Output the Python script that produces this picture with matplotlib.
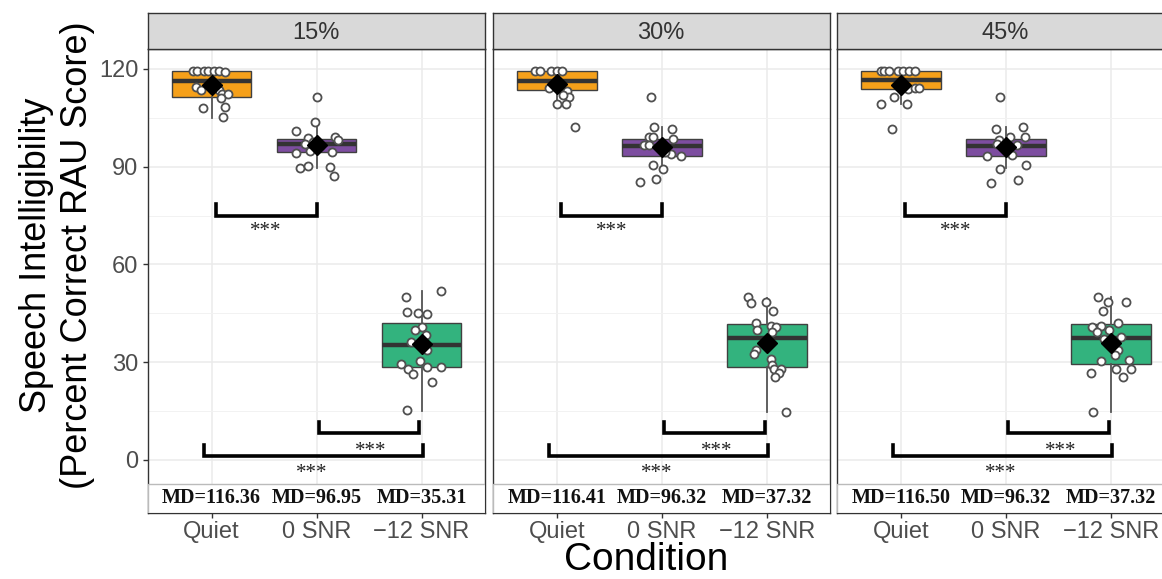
import matplotlib
matplotlib.use("Agg")
import matplotlib.pyplot as plt
from matplotlib.patches import Rectangle
from matplotlib.ticker import FixedLocator

plt.rcParams['font.family'] = ['Liberation Sans', 'DejaVu Sans']

# ---------------- data ----------------
panels = ["15%", "30%", "45%"]
conditions = ["Quiet", "0 SNR", "\u221212 SNR"]
md_labels_15 = ["MD=116.36", "MD=96.95", "MD=35.31"]
md_labels_30 = ["MD=116.41", "MD=96.32", "MD=37.32"]
md_labels_45 = ["MD=116.50", "MD=96.32", "MD=37.32"]
y_ticks = [0, 30, 60, 90, 120]

# box statistics per condition (Quiet, 0 SNR, -12 SNR)
q1_15 = [111.5, 94.4, 28.4]
med_15 = [116.3, 96.9, 35.3]
q3_15 = [119.4, 98.4, 42.1]
lo_15 = [104.9, 89.5, 15.1]
hi_15 = [119.4, 103.8, 51.7]
mean_15 = [115.1, 96.7, 35.6]

q1_30 = [113.6, 93.3, 28.6]
med_30 = [116.4, 96.3, 37.3]
q3_30 = [119.4, 98.4, 41.6]
lo_30 = [109.3, 89.5, 14.8]
hi_30 = [119.4, 102.3, 49.8]
mean_30 = [115.4, 95.9, 35.8]

q1_45 = [113.8, 93.3, 29.3]
med_45 = [116.5, 96.3, 37.3]
q3_45 = [119.4, 98.4, 41.6]
lo_45 = [109.3, 89.5, 14.8]
hi_45 = [119.4, 102.1, 49.9]
mean_45 = [115.1, 95.9, 36.0]

# individual scores and their jitter offsets
val_15_quiet = [119.4, 119.2, 119.4, 119.4, 119.4, 119.4, 119.0, 114.4, 113.6, 113.6,
                112.2, 112.2, 111.2, 108.4, 107.9, 105.1, 115.8]
jit_15_quiet = [-0.18, -0.14, -0.07, -0.03, 0.02, 0.07, 0.13, -0.15, -0.10, 0.07,
                0.10, 0.16, 0.09, 0.13, -0.08, 0.11, 0.03]
val_15_snr0 = [111.3, 103.8, 100.8, 98.7, 97.0, 99.2, 98.2, 94.1, 94.9, 94.4,
               89.7, 90.2, 90.0, 87.2, 96.2, 97.7]
jit_15_snr0 = [0.00, -0.01, -0.20, -0.08, -0.11, 0.18, 0.20, -0.20, -0.06, 0.15,
               -0.16, -0.08, 0.13, 0.17, 0.03, -0.03]
val_15_snr12 = [49.9, 51.7, 45.3, 45.0, 44.7, 40.9, 39.9, 38.2, 36.3, 33.8,
                30.4, 29.5, 28.6, 28.6, 27.9, 26.4, 24.0, 15.3]
jit_15_snr12 = [-0.15, 0.19, -0.14, -0.03, 0.05, 0.00, -0.06, 0.04, -0.10, 0.05,
                -0.01, -0.20, 0.05, 0.19, -0.13, -0.08, 0.10, -0.14]

val_30_quiet = [119.4, 119.4, 119.4, 119.4, 119.4, 114.1, 113.3, 111.3, 109.3, 109.3,
                102.1, 112.0, 115.6]
jit_30_quiet = [-0.21, -0.16, -0.05, 0.00, 0.05, -0.07, 0.10, 0.12, 0.00, 0.09,
                0.17, 0.06, -0.02]
val_30_snr0 = [111.3, 102.3, 101.5, 99.2, 99.2, 98.4, 96.7, 96.7, 93.9, 93.3,
               90.5, 89.2, 85.4, 86.2, 94.6]
jit_30_snr0 = [-0.10, -0.07, 0.10, -0.12, -0.08, 0.11, -0.17, -0.12, 0.09, 0.18,
               -0.08, 0.01, -0.21, -0.05, 0.03]
val_30_snr12 = [50.1, 48.3, 48.4, 45.8, 42.1, 41.1, 40.7, 39.9, 39.4, 33.8,
                32.4, 30.9, 29.2, 27.8, 27.8, 26.6, 25.4, 14.8]
jit_30_snr12 = [-0.18, -0.15, -0.01, 0.06, -0.10, 0.04, 0.09, -0.09, 0.05, -0.10,
                -0.12, 0.04, 0.05, 0.07, 0.14, 0.12, 0.08, 0.18]

val_45_quiet = [119.4, 119.4, 119.4, 119.4, 119.4, 119.4, 119.4, 113.8, 114.1, 114.1,
                111.3, 109.3, 109.3, 101.5, 114.6]
jit_45_quiet = [-0.19, -0.16, -0.11, -0.03, 0.02, 0.08, 0.14, 0.07, 0.14, 0.17,
                -0.06, -0.19, 0.06, -0.08, 0.00]
val_45_snr0 = [111.3, 101.5, 102.1, 99.2, 99.2, 98.2, 96.7, 97.0, 93.4, 93.6,
               90.5, 89.2, 85.1, 85.9]
jit_45_snr0 = [-0.05, -0.09, 0.16, 0.18, 0.04, -0.06, 0.11, -0.08, -0.18, 0.06,
               0.19, -0.05, -0.14, 0.12]
val_45_snr12 = [50.1, 48.4, 48.4, 45.8, 42.1, 40.9, 41.1, 39.9, 39.4, 37.8,
                37.0, 33.8, 32.2, 30.5, 30.7, 27.9, 27.9, 26.6, 25.4, 14.8]
jit_45_snr12 = [-0.12, -0.03, 0.15, -0.07, 0.07, -0.18, -0.09, -0.02, -0.13, 0.10,
                -0.06, 0.07, 0.04, -0.09, 0.17, 0.05, 0.19, -0.19, 0.12, -0.17]

# ---------------- assemble ----------------
box_stats = [
    (q1_15, med_15, q3_15, lo_15, hi_15, mean_15),
    (q1_30, med_30, q3_30, lo_30, hi_30, mean_30),
    (q1_45, med_45, q3_45, lo_45, hi_45, mean_45),
]
points = [
    [(val_15_quiet, jit_15_quiet), (val_15_snr0, jit_15_snr0), (val_15_snr12, jit_15_snr12)],
    [(val_30_quiet, jit_30_quiet), (val_30_snr0, jit_30_snr0), (val_30_snr12, jit_30_snr12)],
    [(val_45_quiet, jit_45_quiet), (val_45_snr0, jit_45_snr0), (val_45_snr12, jit_45_snr12)],
]
md_labels = [md_labels_15, md_labels_30, md_labels_45]

colors = ["#F5A01A", "#7D4DA0", "#33B37E"]
W, H = 1162, 579
fig = plt.figure(figsize=(W / 100, H / 100), dpi=100)
fig.patch.set_facecolor("white")


def rect(l, r, t, b):
    return [l / W, 1 - b / H, (r - l) / W, (b - t) / H]


panel_lefts = [147.5, 492.7, 836.7]
panel_w = 337.0
top_px, bot_px, strip_top = 49.0, 513.0, 12.7
xlim = (0.39, 3.60)
ylim = (-16.3, 126.1)
xs = [1, 2, 3]

# bracket definitions: (x_start, x_end, y_line, y_top, text_x, text_y)
brackets = [
    (1.04, 2.00, 75.0, 78.6, 1.52, 70.2),
    (2.02, 2.98, 8.1, 11.5, 2.52, 2.6),
    (0.93, 3.01, 1.1, 4.6, 1.95, -4.1),
]

for p, name in enumerate(panels):
    left = panel_lefts[p]
    ax = fig.add_axes(rect(left, left + panel_w, top_px, bot_px))
    ax.set_xlim(*xlim)
    ax.set_ylim(*ylim)
    ax.set_facecolor("white")
    ax.yaxis.set_major_locator(FixedLocator(y_ticks))
    ax.yaxis.set_minor_locator(FixedLocator([15, 45, 75, 105]))
    ax.set_xticks(xs)
    ax.set_xticklabels(conditions, fontsize=17, color="#4D4D4D")
    ax.grid(which="major", color="#EBEBEB", lw=1.1, zorder=0)
    ax.grid(which="minor", axis="y", color="#F2F2F2", lw=0.7, zorder=0)
    ax.set_axisbelow(True)
    ax.tick_params(axis="x", length=3.5, width=1, color="#333333", pad=2)
    ax.tick_params(axis="y", which="minor", length=0)
    if p == 0:
        ax.set_yticklabels([str(v) for v in y_ticks], fontsize=17, color="#4D4D4D")
        ax.tick_params(axis="y", which="major", length=3.5, width=1, color="#333333", pad=3)
    else:
        ax.tick_params(axis="y", which="major", length=0, labelleft=False)
    for s in ax.spines.values():
        s.set_color("#333333")
        s.set_linewidth(1.0)

    q1, med, q3, lo, hi, mn = box_stats[p]
    stats = []
    for i in range(3):
        stats.append(dict(q1=q1[i], med=med[i], q3=q3[i], whislo=lo[i], whishi=hi[i],
                          mean=mn[i], fliers=[], label=conditions[i]))
    bp = ax.bxp(stats, positions=xs, widths=0.76, patch_artist=True, showfliers=False,
                showcaps=False, showmeans=False,
                boxprops=dict(edgecolor="#404040", linewidth=1.0),
                medianprops=dict(color="#333333", linewidth=3.2),
                whiskerprops=dict(color="#555555", linewidth=1.3),
                manage_ticks=False, zorder=2)
    for patch, c in zip(bp["boxes"], colors):
        patch.set_facecolor(c)

    for i in range(3):
        vals, jit = points[p][i]
        ax.plot([xs[i] + j for j in jit], vals, linestyle="none", marker="o",
                markersize=5.8, markerfacecolor="white", markeredgecolor="#505050",
                markeredgewidth=1.3, zorder=3)
    ax.plot(xs, mn, linestyle="none", marker="D", markersize=10,
            color="black", zorder=4)

    for (x0, x1, yl, yt, tx, ty) in brackets:
        ax.plot([x0, x0, x1, x1], [yt, yl, yl, yt], color="black", lw=2.6,
                solid_joinstyle="miter", zorder=5)
        ax.text(tx, ty, "***", ha="center", va="center", fontsize=15,
                family=["Liberation Serif", "DejaVu Serif"], color="#222222", zorder=5)

    ax.add_patch(Rectangle((xlim[0], ylim[0]), xlim[1] - xlim[0], -7.4 - ylim[0],
                           facecolor="white", edgecolor="#BBBBBB", lw=1.0, zorder=6,
                           clip_on=True))
    for i in range(3):
        ax.text(xs[i], -11.8, md_labels[p][i], ha="center", va="center", fontsize=14.5,
                fontweight="bold", family=["Liberation Serif", "DejaVu Serif"],
                color="#111111", zorder=7)

    sax = fig.add_axes(rect(left, left + panel_w, strip_top, top_px))
    sax.set_facecolor("#D9D9D9")
    sax.set_xticks([])
    sax.set_yticks([])
    for s in sax.spines.values():
        s.set_color("#333333")
        s.set_linewidth(1.0)
    sax.text(0.5, 0.45, name, ha="center", va="center", fontsize=17,
             color="#333333", transform=sax.transAxes)

fig.text(57 / W, 1 - 255 / H, "Speech Intelligibility\n(Percent Correct RAU Score)",
         rotation=90, ha="center", va="center", fontsize=26, color="black",
         linespacing=1.25, multialignment="center")
fig.text(646 / W, 1 - 578 / H, "Condition", ha="center", va="bottom", fontsize=28,
         color="black")

fig.savefig("out.png", dpi=100, facecolor="white")
